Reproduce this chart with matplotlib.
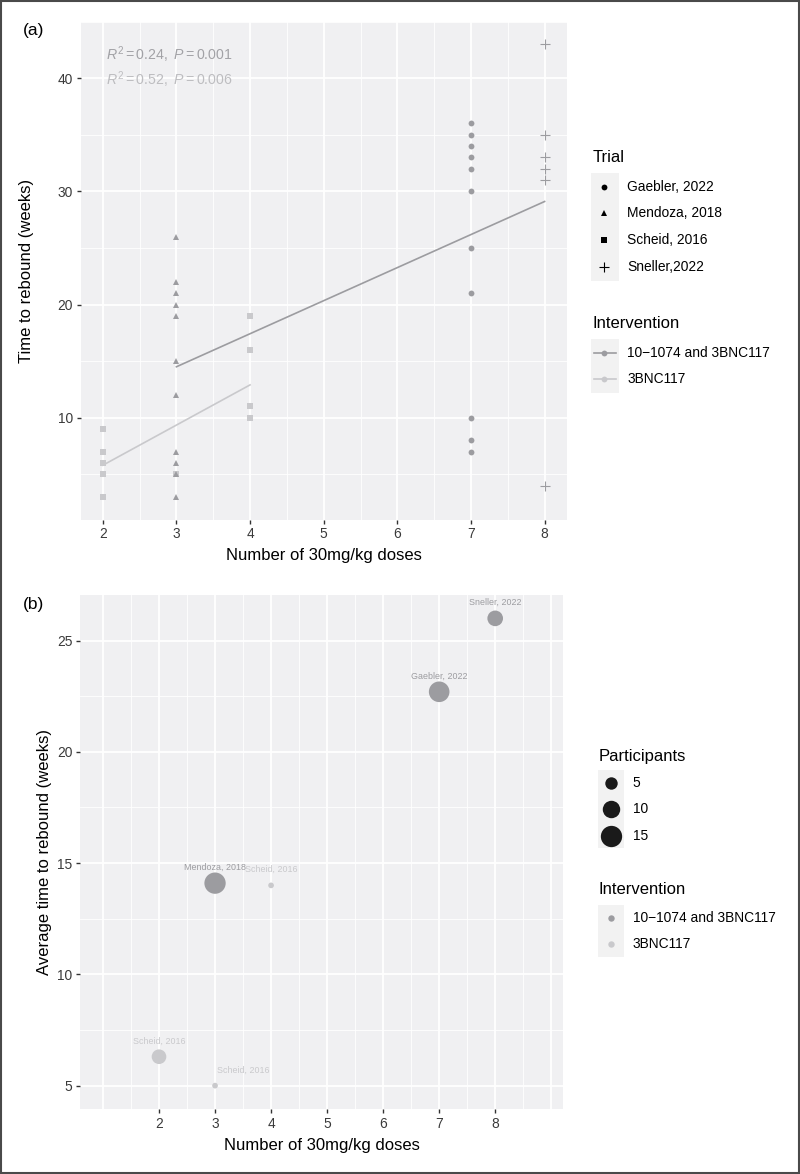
import numpy as np
import matplotlib
matplotlib.use("Agg")
import matplotlib.pyplot as plt
from matplotlib.patches import Rectangle

plt.rcParams['font.family'] = ['Liberation Sans', 'DejaVu Sans']
plt.rcParams['mathtext.fontset'] = 'custom'
plt.rcParams['mathtext.rm'] = 'Liberation Sans'
plt.rcParams['mathtext.it'] = 'Liberation Sans:italic'

# ---- panel (a): time to rebound per participant ----
scheid_dose = [2, 2, 2, 2, 2, 3, 4, 4, 4, 4]
scheid_weeks = [9, 7, 6, 5, 3, 5, 19, 16, 11, 10]
mendoza_dose = [3, 3, 3, 3, 3, 3, 3, 3, 3, 3, 3]
mendoza_weeks = [26, 22, 21, 20, 19, 15, 12, 7, 6, 5, 3]
gaebler_dose = [7, 7, 7, 7, 7, 7, 7, 7, 7, 7, 7]
gaebler_weeks = [36, 35, 34, 33, 32, 30, 25, 21, 10, 8, 7]
sneller_dose = [8, 8, 8, 8, 8, 8]
sneller_weeks = [43, 35, 33, 32, 31, 4]

trials = ["Gaebler, 2022", "Mendoza, 2018", "Scheid, 2016", "Sneller,2022"]
interventions = ["10\u22121074 and 3BNC117", "3BNC117"]

# fitted lines: slope, intercept, dose range
fit_combo = [2.92, 5.74, 3, 8]
fit_single = [3.55, -1.3, 2, 4]
stat_labels = [r"$R^2 = 0.24,\ P = 0.001$", r"$R^2 = 0.52,\ P = 0.006$"]

# ---- panel (b): average per trial arm ----
arm_labels = ["Scheid, 2016", "Scheid, 2016", "Mendoza, 2018", "Scheid, 2016",
              "Gaebler, 2022", "Sneller, 2022"]
arm_dose = [2, 3, 3, 4, 7, 8]
arm_avg_weeks = [6.3, 5.0, 14.1, 14.0, 22.7, 26.0]
arm_participants = [7, 1, 15, 1, 14, 8]
arm_intervention = [1, 1, 0, 1, 0, 0]   # index into interventions
size_breaks = [5, 10, 15]

# ---- styling ----
DARK = '#9c9ca0'
LIGHT = '#c9c9cc'
group_col = [DARK, LIGHT]
PANEL = '#f0f0f2'
TICKCOL = '#3a3a3a'
SMALL = 9.9
BASE = 12


def bubble_area(n, lo=1, hi=15, dmin=5.7, dmax=21.3):
    t = (np.sqrt(n) - np.sqrt(lo)) / (np.sqrt(hi) - np.sqrt(lo))
    d_px = dmin + t * (dmax - dmin)
    return (d_px * 0.72) ** 2


def style_axes(ax):
    ax.set_facecolor(PANEL)
    for s in ax.spines.values():
        s.set_visible(False)
    ax.grid(which='major', color='white', lw=1.25)
    ax.grid(which='minor', color='white', lw=0.6)
    ax.set_axisbelow(True)
    ax.tick_params(which='major', length=3, width=1.0, color='#333333',
                   labelsize=SMALL, labelcolor=TICKCOL, pad=2.5)
    ax.tick_params(which='minor', length=0)


fig = plt.figure(figsize=(8, 11.74), dpi=100)
W, H = 800, 1174

# ---------------- panel (a) ----------------
ax1 = fig.add_axes([80.7 / W, 1 - 519.6 / H, 486 / W, 498.1 / H])
style_axes(ax1)
ax1.set_xlim(1.7, 8.3)
ax1.set_ylim(1, 45)
ax1.set_xticks(range(2, 9))
ax1.set_xticks(np.arange(2.5, 8.5, 1), minor=True)
ax1.set_yticks([10, 20, 30, 40])
ax1.set_yticks([5, 15, 25, 35, 45], minor=True)

for fit, col in [(fit_combo, DARK), (fit_single, LIGHT)]:
    xs = np.array(fit[2:4])
    ax1.plot(xs, fit[0] * xs + fit[1], color=col, lw=1.2, zorder=2)

ax1.plot(scheid_dose, scheid_weeks, 's', color=LIGHT, ms=4.4, mew=0, zorder=3)
ax1.plot(mendoza_dose, mendoza_weeks, '^', color=DARK, ms=5.0, mew=0, zorder=3)
ax1.plot(gaebler_dose, gaebler_weeks, 'o', color=DARK, ms=4.2, mew=0, zorder=3)
ax1.plot(sneller_dose, sneller_weeks, '+', color=DARK, ms=7.5, mew=0.8, zorder=3)

ax1.text(2.05, 42.04, stat_labels[0], color='#a2a2a6', fontsize=10.2, va='center', ha='left')
ax1.text(2.05, 39.9, stat_labels[1], color='#bdbdc0', fontsize=10.2, va='center', ha='left')

ax1.set_xlabel("Number of 30mg/kg doses", fontsize=BASE)
ax1.set_ylabel("Time to rebound (weeks)", fontsize=BASE)
ax1.xaxis.set_label_coords(0.5, -0.073)
ax1.xaxis.label.set_va('center')
ax1.yaxis.set_label_coords(-0.1105, 0.5)
ax1.yaxis.label.set_va('center')

# ---------------- panel (b) ----------------
ax2 = fig.add_axes([80 / W, 1 - 1109 / H, 483 / W, 514 / H])
style_axes(ax2)
ax2.set_xlim(0.59, 9.21)
ax2.set_ylim(3.95, 27.05)
ax2.set_xticks(range(2, 9))
ax2.set_xticks([1.5, 2.5, 3.5, 4.5, 5.5, 6.5, 7.5, 8.5], minor=True)
for xv in (1, 9):
    ax2.axvline(xv, color='white', lw=1.25, zorder=0.5)
ax2.set_yticks([5, 10, 15, 20, 25])
ax2.set_yticks([7.5, 12.5, 17.5, 22.5], minor=True)

cols = [group_col[i] for i in arm_intervention]
ax2.scatter(arm_dose, arm_avg_weeks, s=[bubble_area(n) for n in arm_participants],
            c=cols, linewidths=0, zorder=3)
label_dx = [0, 0.5, 0, 0, 0, 0]   # repelled label offset
for x, y, lab, c, dx in zip(arm_dose, arm_avg_weeks, arm_labels, cols, label_dx):
    ax2.text(x + dx, y + 0.7, lab, fontsize=6.4, color=c, ha='center', va='center', zorder=4)

ax2.set_xlabel("Number of 30mg/kg doses", fontsize=BASE)
ax2.set_ylabel("Average time to rebound (weeks)", fontsize=BASE)
ax2.xaxis.set_label_coords(0.5, -0.0708)
ax2.xaxis.label.set_va('center')
ax2.yaxis.set_label_coords(-0.0745, 0.5)
ax2.yaxis.label.set_va('center')

# ---------------- overlay: tags, legends, frame ----------------
ov = fig.add_axes([0, 0, 1, 1], zorder=5)
ov.set_xlim(0, W)
ov.set_ylim(H, 0)
ov.axis('off')

ov.text(34, 30, "(a)", fontsize=12.5, ha='center', va='center')
ov.text(34, 604, "(b)", fontsize=12.5, ha='center', va='center')

# Trial legend
ov.text(592.7, 157, "Trial", fontsize=BASE, va='center', ha='left')
ov.add_patch(Rectangle((590.7, 172.7), 28.6, 108, color='#f2f2f2', lw=0))
trial_markers = [('o', 4.2), ('^', 5.0), ('s', 4.4), ('+', 7.5)]
for i, (lab, (m, ms)) in enumerate(zip(trials, trial_markers)):
    yy = 186.7 + i * 26.7
    ov.plot([604.3], [yy], m, color='black', ms=ms, mew=0.8 if m == '+' else 0)
    ov.text(627.3, yy, lab, fontsize=SMALL, va='center', ha='left')

# Intervention legend (a)
ov.text(592.7, 323.3, "Intervention", fontsize=BASE, va='center', ha='left')
ov.add_patch(Rectangle((590.7, 339.3), 28.6, 54, color='#f2f2f2', lw=0))
for i, lab in enumerate(interventions):
    yy = 352.7 + i * 26.6
    ov.plot([593.5, 615.5], [yy, yy], color=group_col[i], lw=1.2)
    ov.plot([604.3], [yy], 'o', color=group_col[i], ms=4.2, mew=0)
    ov.text(627.3, yy, lab, fontsize=SMALL, va='center', ha='left')

# Participants legend
ov.text(598.3, 757, "Participants", fontsize=BASE, va='center', ha='left')
ov.add_patch(Rectangle((598.3, 770), 25.7, 77.7, color='#f2f2f2', lw=0))
for i, n in enumerate(size_breaks):
    yy = 783 + i * 26.4
    ov.scatter([610.7], [yy], s=bubble_area(n), c='#1a1a1a', linewidths=0)
    ov.text(632.7, yy, str(n), fontsize=SMALL, va='center', ha='left')

# Intervention legend (b)
ov.text(598.3, 890, "Intervention", fontsize=BASE, va='center', ha='left')
ov.add_patch(Rectangle((598.3, 905), 25.7, 51.7, color='#f2f2f2', lw=0))
for i, lab in enumerate(interventions):
    yy = 917.7 + i * 26.3
    ov.plot([610.7], [yy], 'o', color=group_col[i], ms=4.6, mew=0)
    ov.text(632.7, yy, lab, fontsize=SMALL, va='center', ha='left')

# outer frame
ov.add_patch(Rectangle((0.8, 0.8), W - 1.6, H - 1.6, fill=False, ec='#4a4a4a', lw=1.5))

fig.savefig("out.png", dpi=100)
